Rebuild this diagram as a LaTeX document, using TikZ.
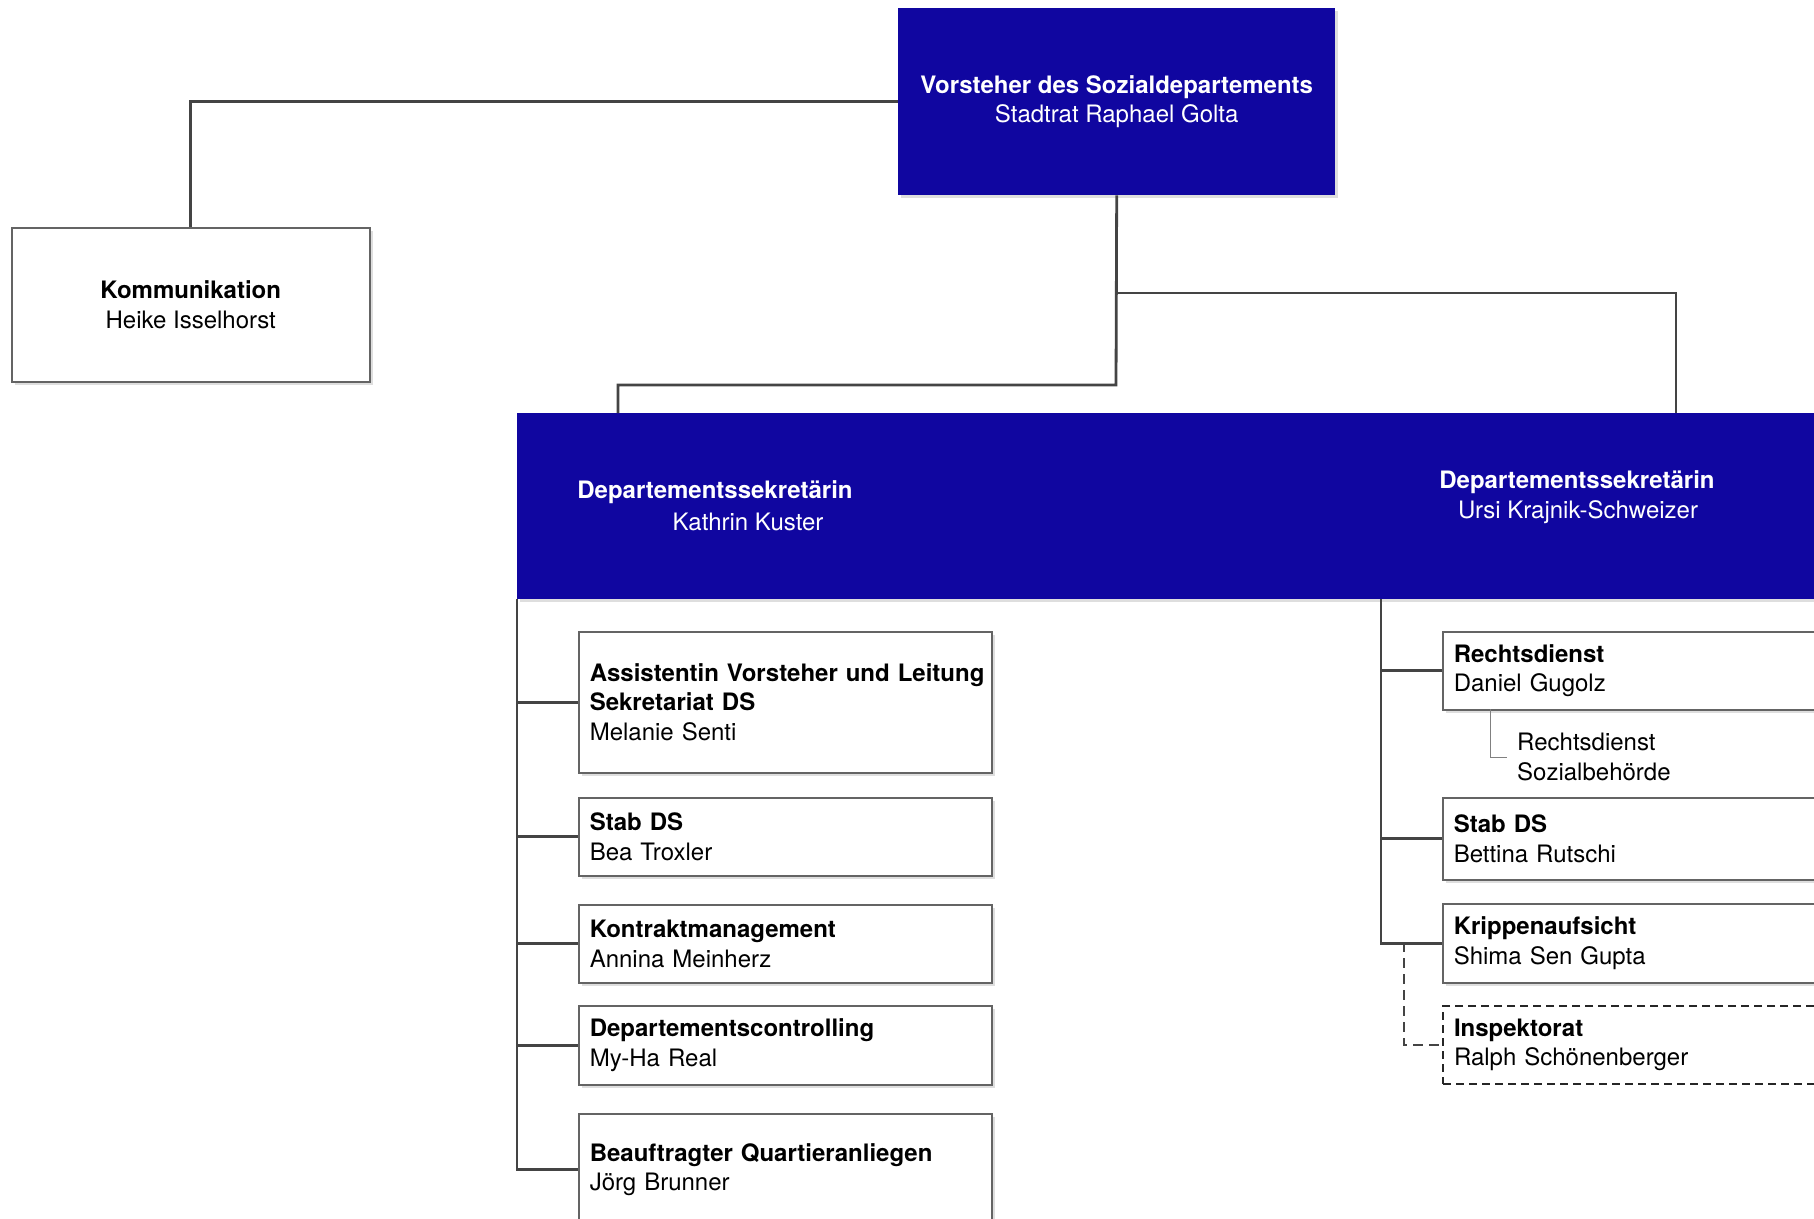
\documentclass[tikz,border=0pt]{standalone}
\usepackage{fontspec}
\setmainfont{TeX Gyre Heros}
\usetikzlibrary{shadows}
\definecolor{dsblue}{RGB}{16,6,160}
\definecolor{lnc}{RGB}{68,68,68}
\definecolor{bdc}{RGB}{100,100,100}
\tikzset{
  txt/.style={font=\fontsize{24}{29.5}\selectfont},
  shad/.style={drop shadow={shadow xshift=3pt, shadow yshift=-3pt, fill=black!13, opacity=1}},
  bluebox/.style={txt, fill=dsblue, draw=none, text=white, shad, anchor=north west, align=center},
  whitebox/.style={txt, fill=white, draw=bdc, line width=1.5pt, shad, anchor=north west, align=center},
  orgbox/.style={txt, fill=white, draw=bdc, line width=1.5pt, shad, anchor=north west, align=left, inner xsep=11pt, inner ysep=0pt},
  dashbox/.style={txt, fill=white, draw=black!85, line width=2pt, dash pattern=on 8pt off 5pt, anchor=north west, align=left, inner xsep=11pt, inner ysep=0pt},
  conn/.style={draw=lnc, line width=2.8pt},
  dconn/.style={draw=lnc, line width=2.4pt, dash pattern=on 10pt off 6pt},
  subconn/.style={draw=black!50, line width=1pt},
  bandtxt/.style={txt, text=white, inner sep=0pt}
}
\begin{document}
\begin{tikzpicture}[x=1pt,y=-1pt]
\useasboundingbox (0,0) rectangle (1814,1218);
% top box
\node[bluebox, minimum width=437pt, minimum height=187pt] (vor) at (898,8)
  {\textbf{Vorsteher des Sozialdepartements}\\Stadtrat Raphael Golta};
% Kommunikation
\node[whitebox, minimum width=358pt, minimum height=154pt] (kom) at (11,227)
  {\textbf{Kommunikation}\\Heike Isselhorst};
% band
\node[fill=dsblue, draw=none, shad, anchor=north west, minimum width=1313pt, minimum height=186pt, inner sep=0pt] (band) at (517,413) {};
\node[bandtxt, font=\fontsize{24}{29.5}\bfseries] (lb1) at (715,492) {Departementssekretärin};
\node[bandtxt] (lb2) at (748,522) {Kathrin Kuster};
\node[bandtxt, font=\fontsize{24}{29.5}\bfseries] (rb1) at (1577,482) {Departementssekretärin};
\node[bandtxt] (rb2) at (1578,512) {Ursi Krajnik-Schweizer};
% left boxes
\node[orgbox, minimum width=413pt, text width=391pt, minimum height=141pt] (a1) at (578,631)
  {\makebox[391pt][l]{\textbf{Assistentin Vorsteher und Leitung}}\\\textbf{Sekretariat DS}\\Melanie Senti};
\node[orgbox, minimum width=413pt, text width=391pt, minimum height=78pt] (a2) at (578,797)
  {\textbf{Stab DS}\\Bea Troxler};
\node[orgbox, minimum width=413pt, text width=391pt, minimum height=78pt] (a3) at (578,904)
  {\textbf{Kontraktmanagement}\\Annina Meinherz};
\node[orgbox, minimum width=413pt, text width=391pt, minimum height=79pt] (a4) at (578,1005)
  {\textbf{Departementscontrolling}\\My-Ha Real};
\node[orgbox, minimum width=413pt, text width=391pt, minimum height=112pt] (a5) at (578,1113)
  {\textbf{Beauftragter Quartieranliegen}\\Jörg Brunner};
% right boxes
\node[orgbox, minimum width=400pt, text width=378pt, minimum height=78pt] (b1) at (1442,631)
  {\textbf{Rechtsdienst}\\Daniel Gugolz};
\node[orgbox, minimum width=400pt, text width=378pt, minimum height=82pt] (b2) at (1442,797)
  {\textbf{Stab DS}\\Bettina Rutschi};
\node[orgbox, minimum width=400pt, text width=378pt, minimum height=79pt] (b3) at (1442,903)
  {\textbf{Krippenaufsicht}\\Shima Sen Gupta};
\node[dashbox, minimum width=400pt, text width=378pt, minimum height=78pt] (b4) at (1442,1005)
  {\textbf{Inspektorat}\\Ralph Schönenberger};
\node[txt, anchor=west, align=left, inner xsep=10pt, inner ysep=0pt] (sub) at (1507,757)
  {Rechtsdienst\\Sozialbehörde};
% connectors
\coordinate (jR) at (1116,293);
\coordinate (jL) at (1116,385);
\coordinate (bL) at (618,413);
\coordinate (bR) at (1676,413);
\coordinate (tL) at (517,599);
\coordinate (tR) at (1381,599);
\coordinate (dS) at (1404,942);
\coordinate (rs) at (1490,709);
\draw[conn] (vor.west) -| (kom.north);
\draw[conn] (vor.south) -- (jL) -| (bL);
\draw[conn] (jR) -| (bR);
\draw[conn] (tL) |- (a5.west);
\foreach \n in {a1,a2,a3,a4} \draw[conn] (\n.west -| tL) -- (\n.west);
\draw[conn] (tR) |- (b3.west);
\foreach \n in {b1,b2} \draw[conn] (\n.west -| tR) -- (\n.west);
\draw[dconn] (dS) |- (b4.west);
\draw[subconn] (rs) |- (sub.west);
\end{tikzpicture}
\end{document}
